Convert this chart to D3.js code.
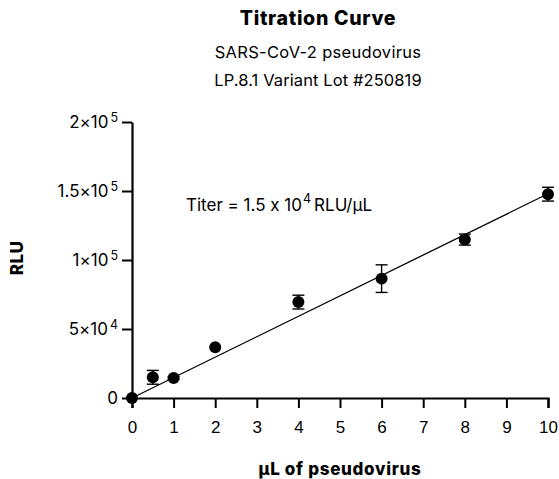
<!DOCTYPE html>
<html>
<head>
<meta charset="utf-8">
<script src="https://cdn.jsdelivr.net/npm/d3@7"></script>
<style>
  body { margin: 0; background: #fff; }
  svg { font-family: "Inter", "Noto Sans", sans-serif; font-feature-settings: "calt" 0; }
</style>
</head>
<body>
<div class="chart-wrapper"></div>
<script>
// volumes of pseudovirus (uL) and measured RLU with error (SD)
const volumes = [0, 0.5, 1, 2, 4, 6, 8, 10]
const rlu = [0, 15000, 14500, 36700, 69500, 86500, 114800, 147700]
const rluErr = [0, 5000, 1000, 0, 5000, 10000, 4000, 5000]
const xTicks = [0, 1, 2, 3, 4, 5, 6, 7, 8, 9, 10]
const yTicks = [0, 50000, 100000, 150000, 200000]
const yTickLabels = [['0', ''], ['5×10', '4'], ['1×10', '5'], ['1.5×10', '5'], ['2×10', '5']]
// linear fit through origin
const fitSlope = 14800
const fitIntercept = 0

const width = 559
const height = 479
const margin = { top: 122, right: 11, bottom: 81, left: 132 }

const svg = d3.select('.chart-wrapper').append('svg')
    .attr('width', width)
    .attr('height', height)

const x = d3.scaleLinear().domain([0, 10]).range([margin.left, width - margin.right])
const y = d3.scaleLinear().domain([0, 200000]).range([height - margin.bottom, margin.top])

// titles
const cx = 318
svg.append('text').attr('x', cx).attr('y', 25).attr('text-anchor', 'middle')
    .style('font-size', '19.5px').style('font-weight', 800).style('letter-spacing', '0.7px').text('Titration Curve')
svg.append('text').attr('x', cx).attr('y', 58).attr('text-anchor', 'middle')
    .style('font-size', '16.5px').style('letter-spacing', '0.3px').text('SARS-CoV-2 pseudovirus')
svg.append('text').attr('x', cx).attr('y', 86).attr('text-anchor', 'middle')
    .style('font-size', '16.5px').style('letter-spacing', '0.1px').text('LP.8.1 Variant Lot #250819')

// x axis
const xAxis = svg.append('g')
    .attr('transform', `translate(0,${y(0)})`)
    .call(d3.axisBottom(x).tickValues(xTicks).tickFormat(d3.format('d')).tickSize(10).tickPadding(13))
xAxis.select('.domain').attr('stroke-width', 2.2)
xAxis.selectAll('.tick line').attr('stroke-width', 2)
xAxis.selectAll('.tick text').style('font-size', '17px').attr('fill', '#000')

// y axis
const yAxis = svg.append('g')
    .attr('transform', `translate(${x(0)},0)`)
    .call(d3.axisLeft(y).tickValues(yTicks).tickFormat('').tickSize(10).tickSizeOuter(0))
yAxis.select('.domain').attr('stroke-width', 2.2)
yAxis.selectAll('.tick line').attr('stroke-width', 2)

const yl = svg.append('g').selectAll('text')
    .data(yTicks)
    .enter()
    .append('text')
    .attr('x', x(0) - 14)
    .attr('y', d => y(d) + 6)
    .attr('text-anchor', 'end')
    .style('font-size', '17px')
yl.append('tspan').text((d, i) => yTickLabels[i][0])
yl.append('tspan').attr('dx', '2').attr('dy', '-6').style('font-size', '12.5px').text((d, i) => yTickLabels[i][1])

// axis titles
svg.append('text').attr('x', 340).attr('y', 475).attr('text-anchor', 'middle')
    .style('font-size', '17px').style('font-weight', 800).style('letter-spacing', '0.7px').text('µL of pseudovirus')
svg.append('text').attr('transform', 'translate(23,258) rotate(-90)').attr('text-anchor', 'middle')
    .style('font-size', '17px').style('font-weight', 800).style('letter-spacing', '0.5px').text('RLU')

// fit line
svg.append('line')
    .attr('x1', x(0)).attr('y1', y(fitIntercept))
    .attr('x2', x(10)).attr('y2', y(fitIntercept + fitSlope * 10))
    .attr('stroke', '#000').attr('stroke-width', 1.3)

// error bars
const pts = volumes.map((v, i) => ({ v, r: rlu[i], e: rluErr[i] }))
const eb = svg.append('g').selectAll('g').data(pts.filter(d => d.e > 0)).enter().append('g')
    .attr('stroke', '#000').attr('stroke-width', 1.4)
eb.append('line').attr('x1', d => x(d.v)).attr('x2', d => x(d.v))
    .attr('y1', d => y(d.r - d.e)).attr('y2', d => y(d.r + d.e))
eb.append('line').attr('x1', d => x(d.v) - 6).attr('x2', d => x(d.v) + 6)
    .attr('y1', d => y(d.r + d.e)).attr('y2', d => y(d.r + d.e))
eb.append('line').attr('x1', d => x(d.v) - 6).attr('x2', d => x(d.v) + 6)
    .attr('y1', d => y(d.r - d.e)).attr('y2', d => y(d.r - d.e))

// points
svg.append('g').selectAll('circle').data(pts).enter().append('circle')
    .attr('cx', d => x(d.v)).attr('cy', d => y(d.r)).attr('r', 6).attr('fill', '#000')

// annotation
const ann = svg.append('text').attr('x', 186).attr('y', 211).style('font-size', '17px')
ann.append('tspan').text('Titer = 1.5 x 10')
ann.append('tspan').attr('dx', '1').attr('dy', '-8').style('font-size', '12.5px').text('4')
ann.append('tspan').attr('dx', '3').attr('dy', '8').text('RLU/µL')
</script>
</body>
</html>
